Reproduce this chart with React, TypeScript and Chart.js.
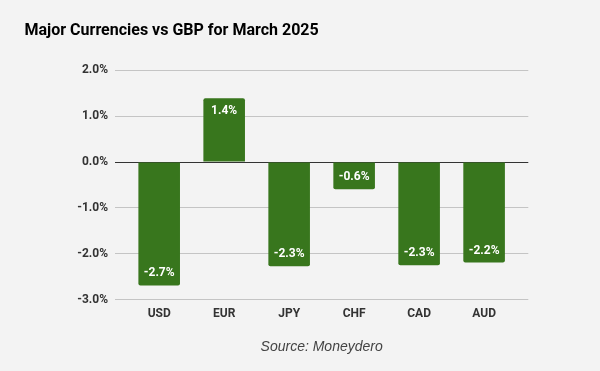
import React, { useEffect, useRef } from "react";
import { Chart, registerables } from "chart.js";

Chart.register(...registerables);

const categories = ["USD", "EUR", "JPY", "CHF", "CAD", "AUD"];
const changes = [-2.69, 1.39, -2.27, -0.59, -2.25, -2.19];
const yTicks = [2, 1, 0, -1, -2, -3];
const titleText = "Major Currencies vs GBP for March 2025";
const sourceText = "Source: Moneydero";

const BG = "#f3f3f3";
const BAR = "#38761d";
const SMALL = 12;

const textPlugin = {
  id: "texts",
  afterDraw(chart: any) {
    const ctx = chart.ctx;
    const area = chart.chartArea;
    ctx.save();
    ctx.fillStyle = "#000";
    ctx.font = "bold 16px Roboto";
    ctx.textAlign = "left";
    ctx.textBaseline = "alphabetic";
    ctx.fillText(titleText, 24.5, 35);

    ctx.fillStyle = "#444";
    ctx.font = "italic 14px 'Liberation Sans', Arial";
    ctx.textAlign = "center";
    ctx.textBaseline = "middle";
    ctx.fillText(sourceText, (area.left + area.right) / 2, 347);

    // value labels
    const meta = chart.getDatasetMeta(0);
    ctx.fillStyle = "#fff";
    ctx.font = `bold ${SMALL}px Roboto`;
    ctx.textAlign = "center";
    ctx.textBaseline = "middle";
    meta.data.forEach((el: any, i: number) => {
      const v = changes[i];
      const y = v < 0 ? el.y - 12 : el.y + 12.5;
      ctx.fillText(v.toFixed(1) + "%", el.x, y);
    });
    ctx.restore();
  },
};

const bgPlugin = {
  id: "bg",
  beforeDraw(chart: any) {
    const ctx = chart.ctx;
    ctx.save();
    ctx.fillStyle = BG;
    ctx.fillRect(0, 0, chart.width, chart.height);
    ctx.restore();
  },
};

export default function App() {
  const ref = useRef<HTMLCanvasElement | null>(null);
  useEffect(() => {
    document.body.style.margin = "0";
    document.body.style.background = BG;
    const chart = new Chart(ref.current as HTMLCanvasElement, {
      type: "bar",
      data: {
        datasets: [
          {
            data: changes.map((v, i) => ({ x: i, y: v })),
            backgroundColor: BAR,
            borderRadius: 2,
            barPercentage: 0.64,
            categoryPercentage: 1,
          } as any,
        ],
      },
      options: {
        animation: false,
        responsive: false,
        maintainAspectRatio: false,
        layout: { padding: { left: 0, right: 71.7, top: 70.3, bottom: 41.3 } },
        plugins: {
          legend: { display: false },
          tooltip: { enabled: false },
          title: { display: false },
        },
        scales: {
          x: {
            type: "linear",
            offset: false,
            min: -0.68,
            max: 5.68,
            afterBuildTicks: (scale: any) => {
              scale.ticks = categories.map((_, i) => ({ value: i }));
            },
            afterFit: (scale: any) => {
              scale.height = 30;
            },
            grid: { display: false, drawTicks: false, offset: false },
            border: { display: false },
            ticks: {
              padding: 7,
              autoSkip: false,
              maxRotation: 0,
              color: "#333",
              font: { family: "Roboto", size: SMALL, weight: "bold" },
              callback: (v: any) => categories[Math.round(Number(v))] ?? "",
            },
          },
          y: {
            min: -3,
            max: 2,
            afterBuildTicks: (scale: any) => {
              scale.ticks = yTicks.map((v) => ({ value: v }));
            },
            afterFit: (scale: any) => {
              scale.width = 115;
            },
            grid: {
              drawTicks: false,
              color: (c: any) => (c.tick && c.tick.value === 0 ? "#333" : "#c4c4c4"),
              lineWidth: 1,
            },
            border: { display: false },
            ticks: {
              padding: 7,
              color: "#333",
              font: { family: "Roboto", size: SMALL, weight: "bold" },
              callback: (v: any) => Number(v).toFixed(1) + "%",
            },
          },
        },
      } as any,
      plugins: [bgPlugin, textPlugin],
    });
    return () => chart.destroy();
  }, []);
  return (
    <div style={{ width: 600, height: 371, background: BG }}>
      <canvas ref={ref} width={600} height={371} style={{ display: "block" }} />
    </div>
  );
}
